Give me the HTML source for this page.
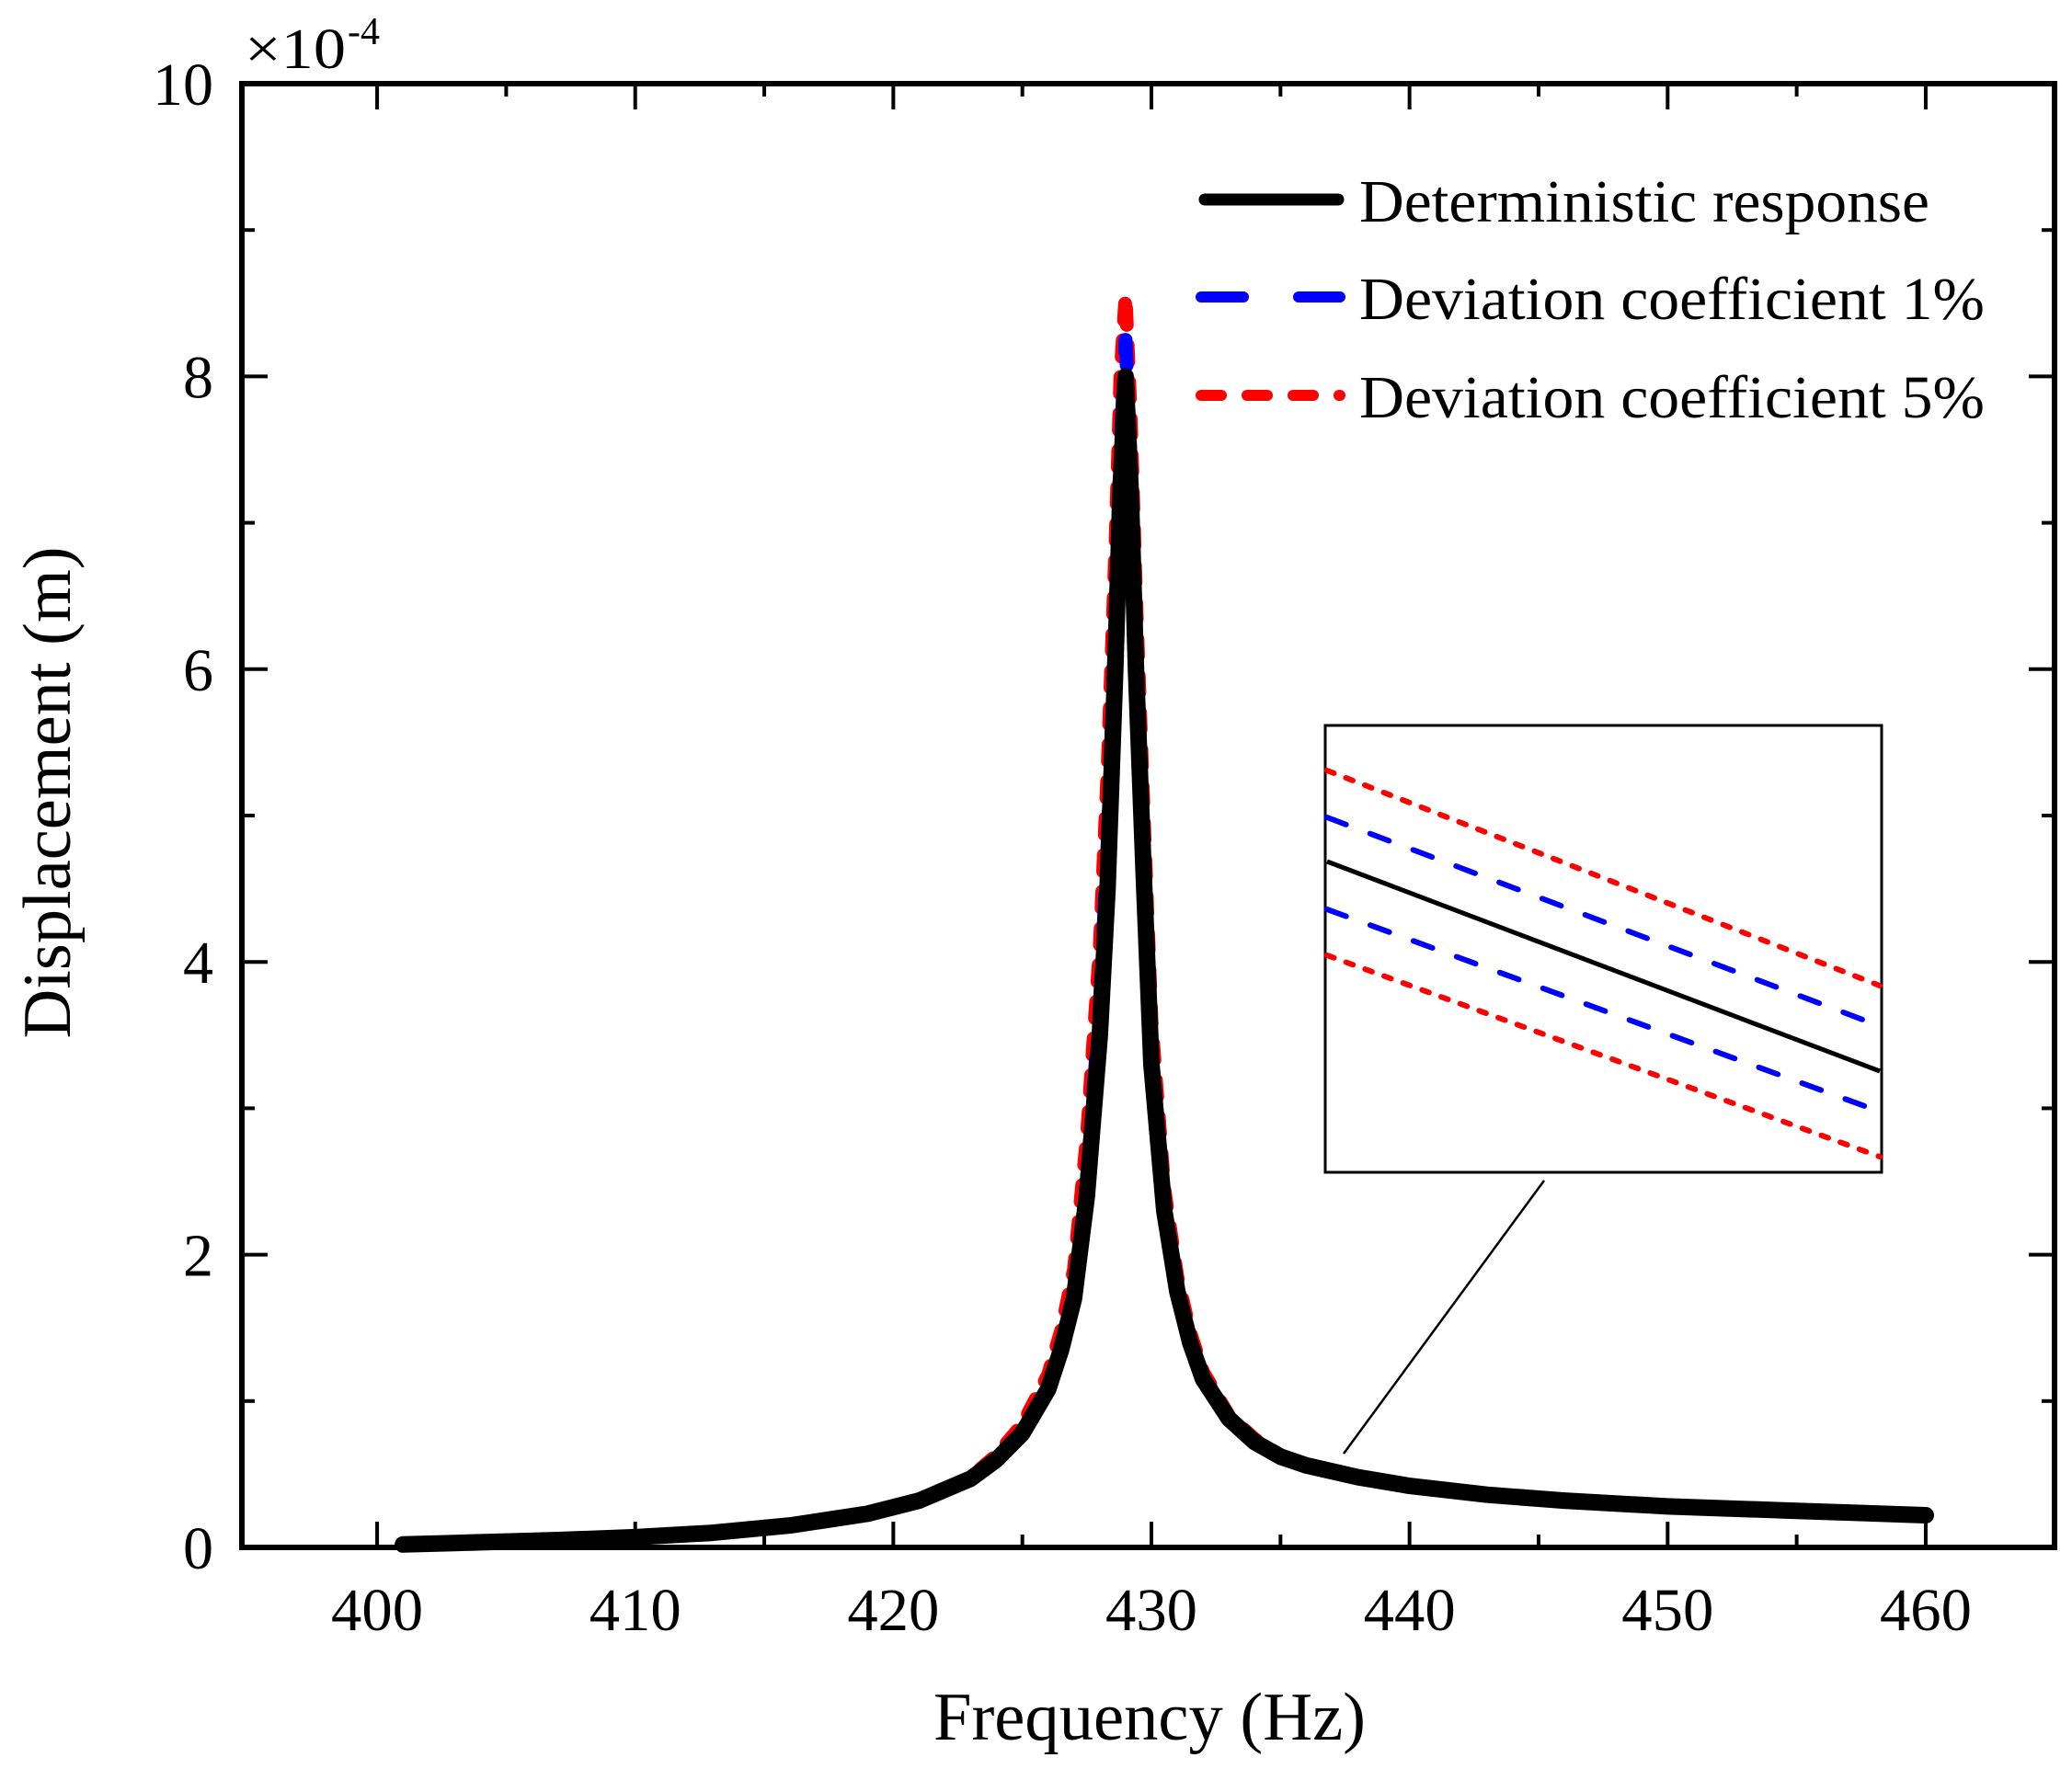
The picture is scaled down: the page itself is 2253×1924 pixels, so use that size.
<!DOCTYPE html>
<html><head><meta charset="utf-8"><style>
html,body{margin:0;padding:0;background:#fff;}
svg{display:block;font-family:"Liberation Serif",serif;}
</style></head><body>
<svg id="chart" width="2253" height="1924" viewBox="0 0 2253 1924">
<g id="plot"></g>
<g id="axes"></g>
</svg>
<script>
const freq = [401,403,405,407,410,413,416,419,421,423,424,425,426,426.5,427,427.5,428,428.3,428.6,428.8,429,429.2,429.4,429.7,430,430.5,431,431.5,432,433,434,435,436,438,440,443,446,450,455,460];
const detVals = [0.02,0.03,0.04,0.05,0.07,0.10,0.15,0.23,0.32,0.47,0.60,0.78,1.08,1.35,1.7,2.4,3.5,4.5,6.0,7.2,8.0,7.2,6.0,4.6,3.3,2.3,1.75,1.4,1.15,0.88,0.72,0.62,0.56,0.48,0.42,0.36,0.32,0.28,0.25,0.22];
const dev1Vals = [0.02,0.03,0.04,0.05,0.07,0.10,0.15,0.23,0.32,0.47,0.61,0.80,1.10,1.38,1.75,2.5,3.7,4.8,6.3,7.5,8.25,7.4,6.2,4.8,3.4,2.35,1.78,1.42,1.17,0.89,0.73,0.63,0.56,0.48,0.42,0.36,0.32,0.28,0.25,0.22];
const dev5Vals = [0.02,0.03,0.04,0.05,0.07,0.10,0.15,0.23,0.32,0.48,0.63,0.84,1.18,1.48,1.9,2.8,4.1,5.3,6.8,8.0,8.55,7.7,6.5,5.0,3.6,2.45,1.85,1.47,1.2,0.90,0.74,0.63,0.56,0.48,0.42,0.36,0.32,0.28,0.25,0.22];
const xTicks = [400,410,420,430,440,450,460];
const yTicks = [0,2,4,6,8,10];

const NS="http://www.w3.org/2000/svg";
const X0=263,X1=2234,Y0=1683,Y1=91;
const xmin=394.76,xmax=464.99,ymin=0,ymax=10;
function sx(v){return X0+(v-xmin)/(xmax-xmin)*(X1-X0);}
function sy(v){return Y0-(v-ymin)/(ymax-ymin)*(Y0-Y1);}
function mk(tag,attrs,parent){const e=document.createElementNS(NS,tag);for(const k in attrs)e.setAttribute(k,attrs[k]);parent.appendChild(e);return e;}
const plot=document.getElementById('plot'),axes=document.getElementById('axes');

function series(vals,stroke,w,dash,name){
  const d=freq.map((f,i)=>(i?'L':'M')+sx(f).toFixed(1)+','+sy(vals[i]).toFixed(1)).join(' ');
  const p=mk('path',{d:d,fill:'none',stroke:stroke,'stroke-width':w,'stroke-linecap':'round','stroke-linejoin':'round'},plot);
  if(dash)p.setAttribute('stroke-dasharray',dash);
  
  
}
series(dev5Vals,'#ff0000',15,'18 22','series-deviation-5pct');
series(dev1Vals,'#0000ff',15,'40 50','series-deviation-1pct');
series(detVals,'#000',18,null,'series-deterministic');

const fr=mk('rect',{x:X0,y:Y1,width:X1-X0,height:Y0-Y1,fill:'none',stroke:'#000','stroke-width':6},axes);


for(let v=400;v<=460;v+=5){
  const L=(v%10===0)?28:14,x=sx(v);
  mk('line',{x1:x,y1:Y0,x2:x,y2:Y0-L,stroke:'#000','stroke-width':4},axes);
  mk('line',{x1:x,y1:Y1,x2:x,y2:Y1+L,stroke:'#000','stroke-width':4},axes);
}
xTicks.forEach(v=>{
  const t=mk('text',{x:sx(v),y:1773,'font-size':66,'text-anchor':'middle',textLength:100,lengthAdjust:'spacingAndGlyphs'},axes);t.textContent=v;
  
  
});
for(let v=0;v<=10;v+=1){
  const L=(v%2===0)?28:14,y=sy(v);
  mk('line',{x1:X0,y1:y,x2:X0+L,y2:y,stroke:'#000','stroke-width':4},axes);
  mk('line',{x1:X1,y1:y,x2:X1-L,y2:y,stroke:'#000','stroke-width':4},axes);
}
yTicks.forEach(v=>{
  const t=mk('text',{x:232,y:sy(v)+23,'font-size':66,'text-anchor':'end'},axes);t.textContent=v;
  
  
});
</script>
<svg style="position:absolute;left:0;top:0" width="2253" height="1924">
<text x="266" y="74" font-size="62" textLength="110" lengthAdjust="spacingAndGlyphs">×10</text>
<text x="378" y="48" font-size="42">-4</text>
<text x="1250" y="1892" font-size="74" text-anchor="middle" textLength="470" lengthAdjust="spacingAndGlyphs">Frequency (Hz)</text>
<text transform="translate(76,862) rotate(-90)" font-size="74" text-anchor="middle" textLength="535" lengthAdjust="spacingAndGlyphs">Displacement (m)</text>
<g>
<line x1="1310" y1="217" x2="1455" y2="217" stroke="#000" stroke-width="13" stroke-linecap="round"/>
<text x="1478" y="241" font-size="66" textLength="620" lengthAdjust="spacingAndGlyphs">Deterministic response</text>
<line x1="1306" y1="323" x2="1352" y2="323" stroke="#0000ff" stroke-width="12" stroke-linecap="round"/>
<line x1="1412" y1="323" x2="1457" y2="323" stroke="#0000ff" stroke-width="12" stroke-linecap="round"/>
<text x="1478" y="347" font-size="66" textLength="680" lengthAdjust="spacingAndGlyphs">Deviation coefficient 1%</text>
<line x1="1306" y1="430" x2="1457" y2="430" stroke="#ff0000" stroke-width="12" stroke-linecap="round" stroke-dasharray="22 28"/>
<text x="1478" y="454" font-size="66" textLength="680" lengthAdjust="spacingAndGlyphs">Deviation coefficient 5%</text>
</g>
<g>
<rect x="1441" y="789" width="605" height="486" fill="#fff" stroke="#000" stroke-width="3"/>
<line x1="1443" y1="838" x2="2044" y2="1072" stroke="#ff0000" stroke-width="6" stroke-dasharray="8 14" stroke-linecap="round"/>
<line x1="1443" y1="889" x2="2044" y2="1116" stroke="#0000ff" stroke-width="6" stroke-dasharray="22 28" stroke-linecap="round"/>
<line x1="1443" y1="937" x2="2044" y2="1165" stroke="#000" stroke-width="5"/>
<line x1="1443" y1="989" x2="2044" y2="1209" stroke="#0000ff" stroke-width="6" stroke-dasharray="22 28" stroke-linecap="round"/>
<line x1="1443" y1="1039" x2="2044" y2="1258" stroke="#ff0000" stroke-width="6" stroke-dasharray="8 14" stroke-linecap="round"/>
</g>
<line x1="1679" y1="1284" x2="1461" y2="1581" stroke="#000" stroke-width="2.5"/>
</svg>
</body></html>
